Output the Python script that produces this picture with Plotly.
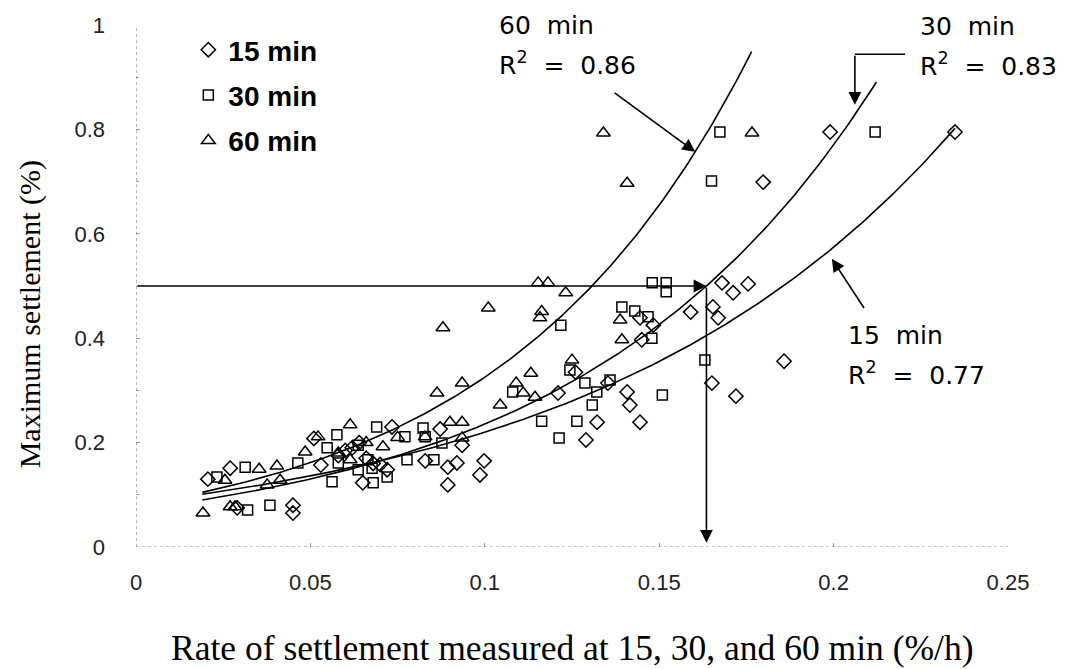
import numpy as np
import plotly.graph_objects as go

# ---------------- data ----------------
x15 = [0.0206, 0.027, 0.029, 0.045, 0.045, 0.051, 0.053, 0.058, 0.062, 0.066, 0.070,
       0.065, 0.072, 0.0734, 0.064, 0.060, 0.068, 0.0829, 0.0872, 0.0894, 0.092, 0.0894,
       0.0935, 0.0998, 0.0986, 0.121, 0.126, 0.1353, 0.1408, 0.1416, 0.1322, 0.1445,
       0.129, 0.1445, 0.1483, 0.145, 0.159, 0.1654, 0.1669, 0.168, 0.1712, 0.1755,
       0.1858, 0.1651, 0.172, 0.1798, 0.199, 0.2348]
y15 = [0.130, 0.151, 0.075, 0.080, 0.065, 0.208, 0.157, 0.175, 0.190, 0.170, 0.158,
       0.123, 0.148, 0.230, 0.200, 0.185, 0.160, 0.165, 0.226, 0.153, 0.161, 0.119,
       0.195, 0.165, 0.138, 0.295, 0.335, 0.314, 0.297, 0.272, 0.239, 0.239,
       0.205, 0.439, 0.425, 0.397, 0.450, 0.460, 0.439, 0.506, 0.487, 0.504,
       0.356, 0.314, 0.289, 0.699, 0.795, 0.795]

x30 = [0.0232, 0.0313, 0.032, 0.0384, 0.0464, 0.0548, 0.0576, 0.0562, 0.058, 0.0637,
       0.0637, 0.0665, 0.0677, 0.068, 0.069, 0.072, 0.0771, 0.0777, 0.0823, 0.0829,
       0.0854, 0.0877, 0.108, 0.1163, 0.1218, 0.1244, 0.1264, 0.1213, 0.1287, 0.1308,
       0.1321, 0.1359, 0.1393, 0.143, 0.1468, 0.1479, 0.148, 0.152, 0.152, 0.1509,
       0.1631, 0.165, 0.1674, 0.2119]
y30 = [0.134, 0.153, 0.071, 0.080, 0.161, 0.190, 0.215, 0.125, 0.161, 0.195,
       0.148, 0.167, 0.151, 0.123, 0.230, 0.134, 0.211, 0.167, 0.228, 0.211,
       0.167, 0.199, 0.297, 0.241, 0.425, 0.339, 0.241, 0.209, 0.314, 0.272,
       0.297, 0.320, 0.460, 0.452, 0.441, 0.400, 0.506, 0.506, 0.489, 0.291,
       0.358, 0.701, 0.795, 0.795]

x60 = [0.0192, 0.0255, 0.027, 0.0284, 0.0353, 0.0376, 0.0404, 0.0413, 0.0485, 0.0522,
       0.0614, 0.0614, 0.0708, 0.058, 0.066, 0.075, 0.0829, 0.0863, 0.0935, 0.088,
       0.101, 0.090, 0.0935, 0.0935, 0.1044, 0.109, 0.111, 0.1144, 0.1132, 0.1158,
       0.1163, 0.1153, 0.1181, 0.1232, 0.125, 0.1388, 0.1393, 0.134, 0.1408, 0.1766]
y60 = [0.065, 0.128, 0.077, 0.077, 0.149, 0.119, 0.155, 0.128, 0.182, 0.211,
       0.234, 0.167, 0.192, 0.180, 0.200, 0.210, 0.211, 0.295, 0.314, 0.420,
       0.458, 0.239, 0.239, 0.209, 0.272, 0.314, 0.295, 0.287, 0.333, 0.439,
       0.451, 0.506, 0.506, 0.487, 0.358, 0.435, 0.397, 0.793, 0.697, 0.793]

# exponential fits y = a * exp(b x)
fit_names = ["15 min", "30 min", "60 min"]
fit_a = [0.0842, 0.0720, 0.0802]
fit_b = [9.6, 11.85, 14.0]
fit_x0 = [0.019, 0.019, 0.019]
fit_x1 = [0.2348, 0.2123, 0.1765]
fit_r2 = ["0.77", "0.83", "0.86"]

target_y = 0.5  # maximum settlement used to read the 30 min curve

# ---------------- figure ----------------
fig = go.Figure()

sym = ["diamond-open", "square-open", "triangle-up-open"]
xs = [x15, x30, x60]
ys = [y15, y30, y60]
sizes = [11, 10, 12]
for name, s, xx, yy, sz in zip(fit_names, sym, xs, ys, sizes):
    fig.add_trace(go.Scatter(
        x=xx, y=yy, mode="markers", name=name, legendgroup=name,
        marker=dict(symbol=s, size=sz, color="black", line=dict(width=1.5, color="black")),
    ))

for a, b, x0, x1 in zip(fit_a, fit_b, fit_x0, fit_x1):
    xc = np.linspace(x0, x1, 200)
    fig.add_trace(go.Scatter(
        x=xc, y=a * np.exp(b * xc), mode="lines", showlegend=False,
        line=dict(color="black", width=1.6), hoverinfo="skip",
    ))

# dotted axis lines
fig.add_shape(type="line", xref="x", yref="y", x0=0, x1=0.25, y0=0, y1=0,
              line=dict(color="#888", width=1.2, dash="dot"))
fig.add_shape(type="line", xref="x", yref="y", x0=0, x1=0, y0=0, y1=1,
              line=dict(color="#888", width=1.2, dash="dot"))

arrow = dict(xref="x", yref="y", axref="x", ayref="y", showarrow=True, arrowhead=2,
             arrowsize=1.6, arrowwidth=1.6, arrowcolor="black", text="")

# reading arrows on the 30 min curve
x_read = np.log(target_y / fit_a[1]) / fit_b[1]
fig.add_annotation(x=x_read, y=target_y, ax=0, ay=target_y, **arrow)
fig.add_annotation(x=x_read, y=0.008, ax=x_read, ay=target_y, **arrow)

lab_font = dict(family="DejaVu Sans", size=25, color="black")

def label(x, y_top, y_bot, name, r2):
    fig.add_annotation(x=x, y=y_top, xref="x", yref="y", xanchor="left", yanchor="middle",
                       showarrow=False, font=lab_font, text=name.replace(" ", "  "))
    fig.add_annotation(x=x, y=y_bot, xref="x", yref="y", xanchor="left", yanchor="middle",
                       showarrow=False, font=lab_font,
                       text="R<sup>2</sup>  =  " + r2)

# 60 min label
label(0.1035, 1.0, 0.927, fit_names[2], fit_r2[2])
fig.add_annotation(x=0.1603, y=0.757, ax=0.1368, ay=0.872, **arrow)

# 30 min label
label(0.2242, 0.998, 0.925, fit_names[1], fit_r2[1])
fig.add_shape(type="line", xref="x", yref="y", x0=0.2205, x1=0.2061, y0=0.944, y1=0.944,
              line=dict(color="black", width=1.6))
fig.add_annotation(x=0.2061, y=0.847, ax=0.2061, ay=0.944, **arrow)

# 15 min label
label(0.2036, 0.406, 0.332, fit_names[0], fit_r2[0])
fig.add_annotation(x=0.1995, y=0.552, ax=0.2090, ay=0.455, **arrow)

# axis titles
fig.add_annotation(x=0.5, y=-0.193, xref="paper", yref="paper", showarrow=False,
                   yanchor="middle",
                   text="Rate of settlement measured at 15, 30, and 60 min (%/h)",
                   font=dict(family="Liberation Serif", size=35.5, color="black"))
fig.add_annotation(x=-0.122, y=0.445, xref="paper", yref="paper", showarrow=False,
                   textangle=-90, xanchor="center", yanchor="middle",
                   text="Maximum settlement (%)",
                   font=dict(family="Liberation Serif", size=30, color="black"))

tick_font = dict(family="Liberation Sans", size=22, color="#222")
fig.update_xaxes(range=[0, 0.25], tickvals=[0, 0.05, 0.1, 0.15, 0.2, 0.25],
                 ticktext=["0", "0.05", "0.1", "0.15", "0.2", "0.25"],
                 showgrid=False, zeroline=False, showline=False, automargin=False,
                 ticks="inside", ticklen=4, tickcolor="#999",
                 tickfont=tick_font, ticklabelstandoff=20)
fig.update_yaxes(range=[0, 1], tickvals=[0, 0.2, 0.4, 0.6, 0.8, 1],
                 ticktext=["0", "0.2", "0.4", "0.6", "0.8", "1"],
                 showgrid=False, zeroline=False, showline=False, automargin=False,
                 ticks="inside", ticklen=4, tickcolor="#999",
                 minor=dict(dtick=0.1, ticks="inside", ticklen=3, tickcolor="#999"),
                 tickfont=tick_font, ticklabelstandoff=30)

# the page has an 8px body margin, so the figure is sized to fit the window
fig.update_layout(
    width=1059, height=661,
    margin=dict(l=128, r=59, t=17, b=122, autoexpand=False),
    plot_bgcolor="white", paper_bgcolor="white",
    showlegend=True,
    legend=dict(x=0.06, y=1.0, xanchor="left", yanchor="top",
                bgcolor="rgba(0,0,0,0)",
                font=dict(family="Liberation Sans", size=28, color="black", weight="bold"),
                itemsizing="trace", tracegroupgap=6),
)

fig.write_html("out.html")
